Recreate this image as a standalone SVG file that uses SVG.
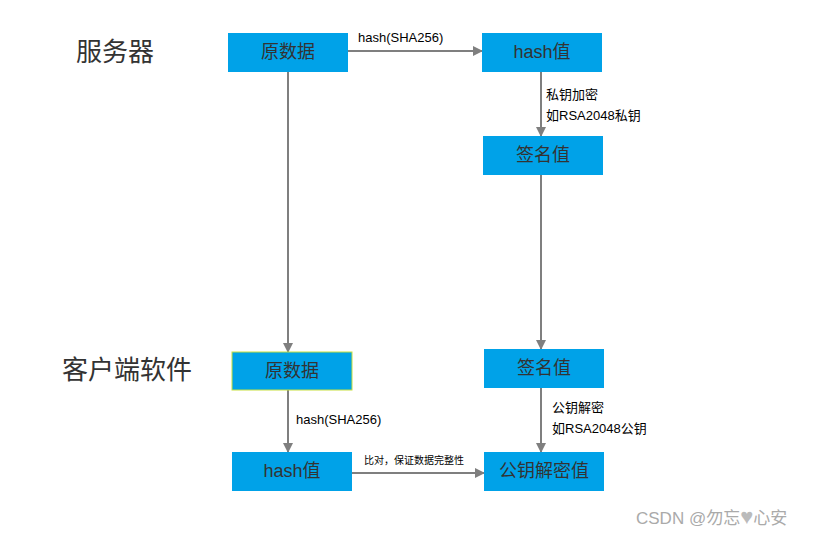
<svg xmlns="http://www.w3.org/2000/svg" width="816" height="536" viewBox="0 0 816 536">
<defs>
<marker id="ah" markerWidth="10" markerHeight="10" refX="9" refY="5" orient="auto" markerUnits="userSpaceOnUse">
<path d="M0,0 L10,5 L0,10 Z" fill="#7f7f7f"/>
</marker>
</defs>
<style>
.box{fill:#00a2e8;}
.bt{font-family:"Liberation Sans","Noto Sans CJK SC",sans-serif;font-size:18px;fill:#333;text-anchor:middle;dominant-baseline:central;}
.lbl{font-family:"Liberation Sans","Noto Sans CJK SC",sans-serif;font-size:13px;fill:#000;}
.sm{font-family:"Liberation Sans","Noto Sans CJK SC",sans-serif;font-size:10px;fill:#000;}
.big{font-family:"Noto Sans CJK SC",sans-serif;font-size:26px;fill:#333;}
.ln{stroke:#7f7f7f;stroke-width:2;fill:none;marker-end:url(#ah);}
</style>
<rect width="816" height="536" fill="#fff"/>
<text class="big" x="76" y="61">服务器</text>
<text class="big" x="62" y="379">客户端软件</text>
<g id="connectors">
<line class="ln" x1="348" y1="51" x2="482" y2="51"/>
<line class="ln" x1="288" y1="72" x2="288" y2="352"/>
<line class="ln" x1="541" y1="72" x2="541" y2="136"/>
<line class="ln" x1="541" y1="175" x2="541" y2="349"/>
<line class="ln" x1="288" y1="390" x2="288" y2="452"/>
<line class="ln" x1="541" y1="388" x2="541" y2="452"/>
<line class="ln" x1="352" y1="473" x2="484" y2="473"/>
<text class="lbl" x="358" y="42">hash(SHA256)</text>
<text class="lbl" x="546" y="99">私钥加密</text>
<text class="lbl" x="546" y="120">如RSA2048私钥</text>
<text class="lbl" x="296" y="424">hash(SHA256)</text>
<text class="lbl" x="552" y="412">公钥解密</text>
<text class="lbl" x="552" y="433">如RSA2048公钥</text>
<text class="sm" x="364" y="464">比对，保证数据完整性</text>
</g>
<g id="n1"><rect class="box" x="228" y="33" width="120" height="39"/><text class="bt" x="288" y="52">原数据</text></g>
<g id="n2"><rect class="box" x="482" y="33" width="120" height="39"/><text class="bt" x="542" y="52">hash值</text></g>
<g id="n3"><rect class="box" x="483" y="136" width="120" height="39"/><text class="bt" x="543" y="155">签名值</text></g>
<g id="n4"><rect class="box" x="232" y="352" width="120" height="38" stroke="#c8e03c" stroke-width="1"/><text class="bt" x="292" y="371">原数据</text></g>
<g id="n5"><rect class="box" x="484" y="349" width="120" height="39"/><text class="bt" x="544" y="368">签名值</text></g>
<g id="n6"><rect class="box" x="232" y="452" width="120" height="39"/><text class="bt" x="292" y="471">hash值</text></g>
<g id="n7"><rect class="box" x="484" y="452" width="120" height="39"/><text class="bt" x="544" y="471">公钥解密值</text></g>
<text x="636" y="524" font-family="'Liberation Sans','Noto Sans CJK SC',sans-serif" font-size="17" fill="#aaa">CSDN @勿忘<tspan fill="#bbb" font-size="22">♥</tspan>心安</text>
</svg>
